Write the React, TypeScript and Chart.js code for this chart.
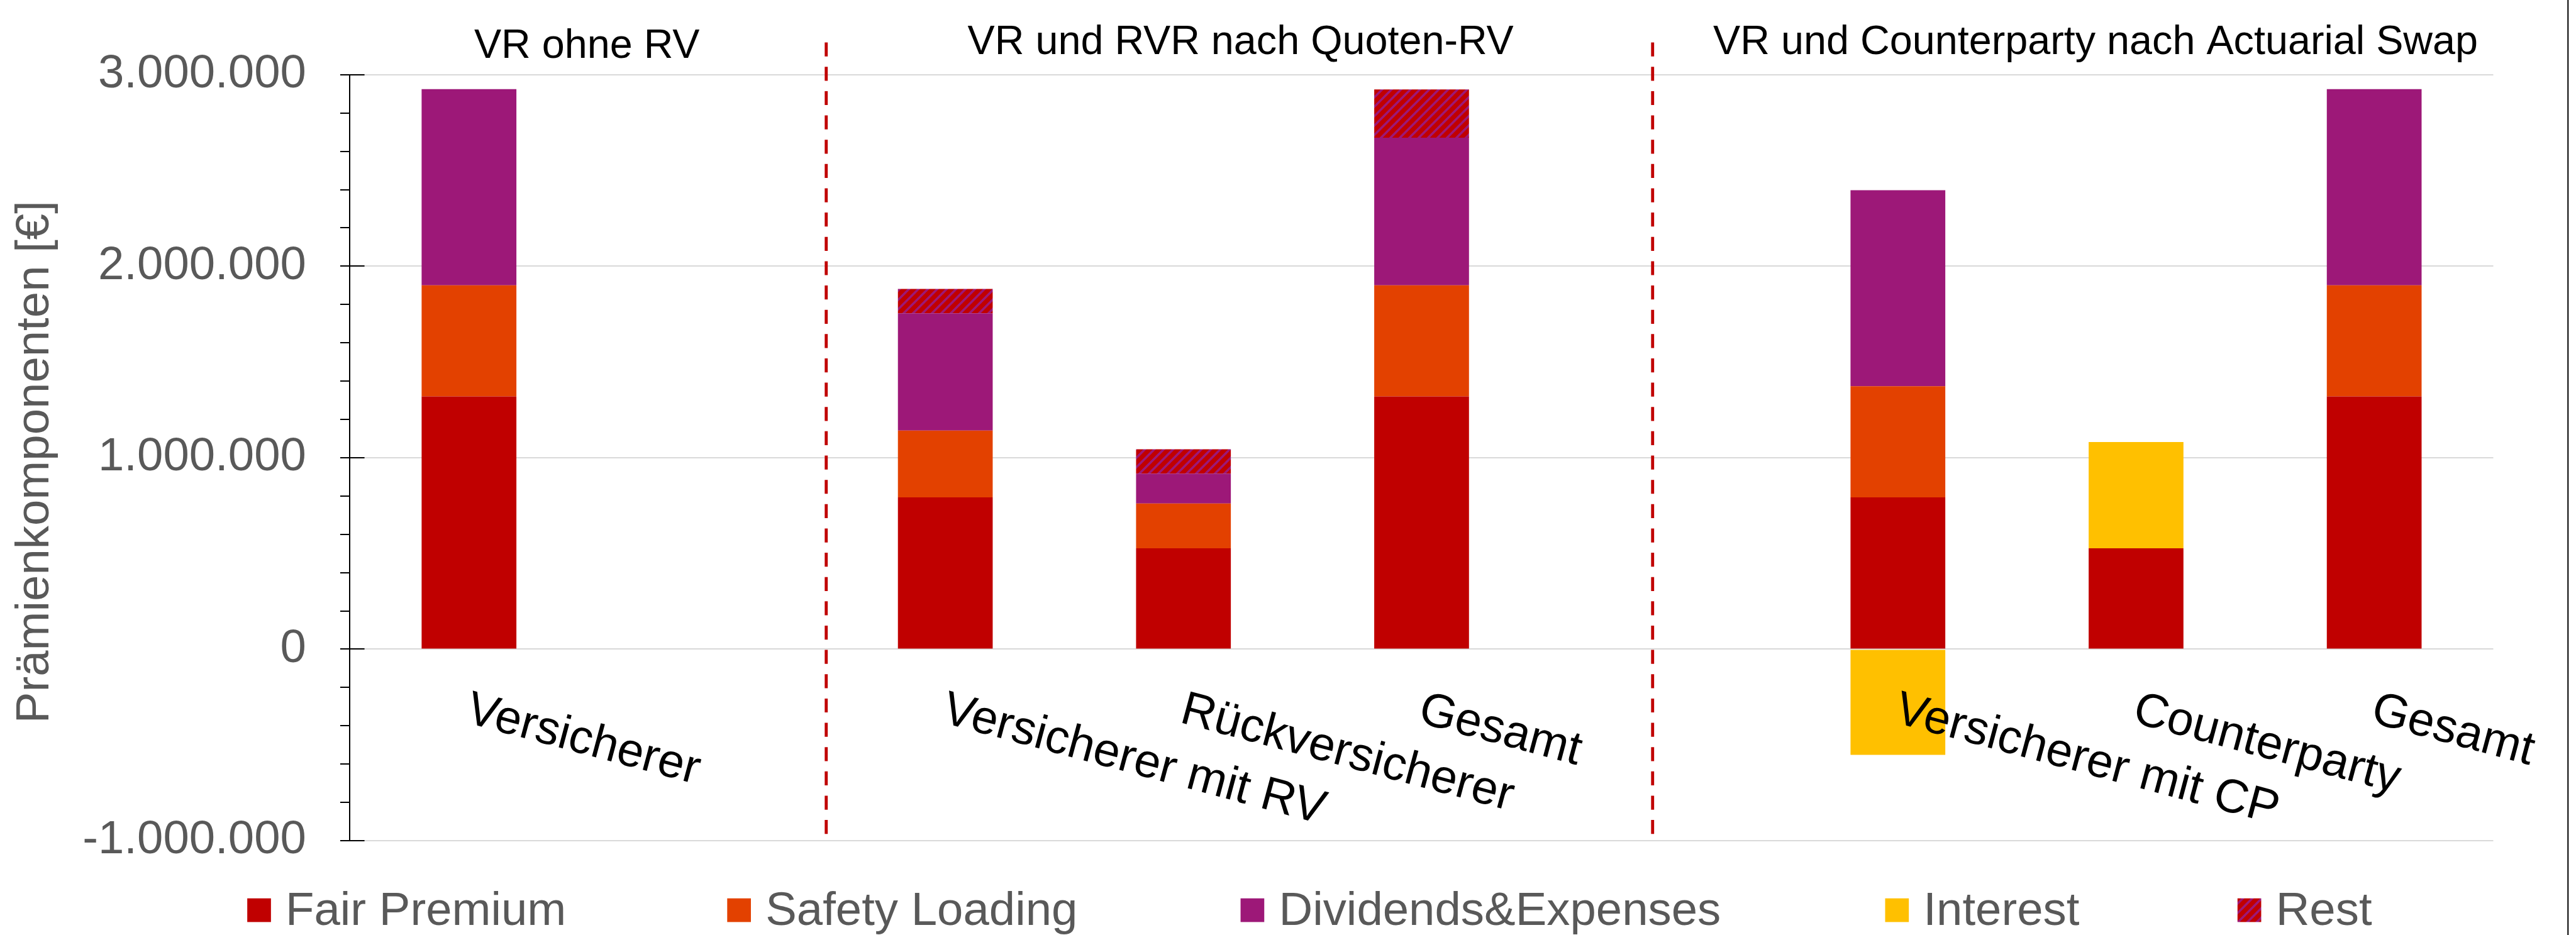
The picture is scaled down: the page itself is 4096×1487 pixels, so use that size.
import React, { useEffect, useRef } from 'react';
import { Chart, registerables } from 'chart.js';

Chart.register(...registerables);

// ---------- data ----------
const categories = ['Versicherer', '', 'Versicherer mit RV', 'Rückversicherer', 'Gesamt', '', 'Versicherer mit CP', 'Counterparty', 'Gesamt'];
const fairPremium = [1320000, null, 793000, 527000, 1320000, null, 793000, 527000, 1320000];
const safetyLoading = [580000, null, 349000, 234000, 580000, null, 580000, null, 580000];
const dividendsExpenses = [1025000, null, 612000, 156000, 771000, null, 1024000, null, 1025000];
const interest = [null, null, null, null, null, null, -552000, 555000, null];
const rest = [null, null, 127000, 127000, 252000, null, null, null, null];
const seriesNames = ['Fair Premium', 'Safety Loading', 'Dividends&Expenses', 'Interest', 'Rest'];
const yMin = -1000000;
const yMax = 3000000;
const yStep = 1000000;
const yMinorStep = 200000;
const groupTitles = ['VR ohne RV', 'VR und RVR nach Quoten-RV', 'VR und Counterparty nach Actuarial Swap'];
const yAxisTitle = 'Prämienkomponenten [€]';

// ---------- layout / style ----------
const S = 0.966;
const W = 4096;
const H = 1487;
const FONT = '"Liberation Sans", Arial, sans-serif';
const colors = ['#C00000', '#E34100', '#9D1878', '#FFC000'];
const groupTitlePos = [0.495, 3.24, 6.83];
const groupTitleBaseline = [95, 89, 89];
const separatorPos = [1.5, 4.97];
const legendX = [407, 1197, 2042, 3103, 3683];

const fmt = (v: number) => {
  const s = Math.abs(v).toFixed(0).replace(/\B(?=(\d{3})+(?!\d))/g, '.');
  return (v < 0 ? '-' : '') + s;
};

function makePattern(ctx: CanvasRenderingContext2D) {
  const T = 15;
  const c = document.createElement('canvas');
  c.width = T;
  c.height = T;
  const g = c.getContext('2d')!;
  g.fillStyle = '#C00000';
  g.fillRect(0, 0, T, T);
  g.strokeStyle = '#9D1878';
  g.lineWidth = 3.5;
  for (const o of [-T, 0, T]) {
    g.beginPath();
    g.moveTo(o - 1, T + 1);
    g.lineTo(o + T + 1, -1);
    g.stroke();
  }
  return ctx.createPattern(c, 'repeat')!;
}

const overlay = {
  id: 'overlay',
  afterDraw(chart: any) {
    const ctx: CanvasRenderingContext2D = chart.ctx;
    const area = chart.chartArea;
    const xs = chart.scales.x;
    const ys = chart.scales.y;
    ctx.save();

    // y tick marks
    ctx.strokeStyle = '#000';
    ctx.lineWidth = 2;
    const axisX = area.left;
    const n0 = Math.round(yMin / yMinorStep);
    const n1 = Math.round(yMax / yMinorStep);
    for (let k = n0; k <= n1; k++) {
      const v = k * yMinorStep;
      const y = Math.round(ys.getPixelForValue(v));
      const major = v % yStep === 0;
      ctx.beginPath();
      ctx.moveTo(axisX - 16 * S, y);
      ctx.lineTo(axisX + (major ? 24 * S : 0), y);
      ctx.stroke();
    }

    // dashed separators
    ctx.strokeStyle = '#C00000';
    ctx.lineWidth = 5 * S;
    ctx.setLineDash([23 * S, 17 * S]);
    for (const p of separatorPos) {
      const x = xs.getPixelForValue(p);
      ctx.beginPath();
      ctx.moveTo(x, 70 * S);
      ctx.lineTo(x, area.bottom + 4 * S);
      ctx.stroke();
    }
    ctx.setLineDash([]);

    // group titles
    ctx.fillStyle = '#000';
    ctx.font = `${67 * S}px ${FONT}`;
    ctx.textAlign = 'center';
    ctx.textBaseline = 'alphabetic';
    groupTitles.forEach((t, i) => {
      ctx.fillText(t, xs.getPixelForValue(groupTitlePos[i]), groupTitleBaseline[i] * S);
    });

    // category labels (rotated, going down-right)
    ctx.font = `${78 * S}px ${FONT}`;
    ctx.textAlign = 'left';
    const zeroY = ys.getPixelForValue(0);
    categories.forEach((lab, i) => {
      if (!lab) return;
      const x = xs.getPixelForValue(i) - 8 * S;
      const y = zeroY + 120 * S;
      ctx.save();
      ctx.translate(x, y);
      ctx.rotate((15 * Math.PI) / 180);
      ctx.fillText(lab, 0, 0);
      ctx.restore();
    });

    // y axis title
    ctx.fillStyle = '#595959';
    ctx.font = `${77 * S}px ${FONT}`;
    ctx.save();
    ctx.translate(80 * S, 760.5 * S);
    ctx.rotate(-Math.PI / 2);
    ctx.textAlign = 'center';
    ctx.fillText(yAxisTitle, 0, 0);
    ctx.restore();

    // legend
    const ds = chart.data.datasets;
    ctx.font = `${77 * S}px ${FONT}`;
    ctx.textAlign = 'left';
    ds.forEach((d: any, i: number) => {
      const bx = legendX[i] * S;
      ctx.fillStyle = d.backgroundColor;
      ctx.fillRect(bx, 1479 * S, 39 * S, 39 * S);
      ctx.fillStyle = '#595959';
      ctx.fillText(d.label, bx + 63 * S, 1523 * S);
    });

    // right border of chart frame
    ctx.strokeStyle = '#000';
    ctx.lineWidth = 2;
    ctx.beginPath();
    ctx.moveTo(4227 * S, 0);
    ctx.lineTo(4227 * S, H);
    ctx.stroke();

    ctx.restore();
  },
};

export default function App() {
  const ref = useRef<HTMLCanvasElement>(null);
  useEffect(() => {
    const canvas = ref.current!;
    const pat = makePattern(canvas.getContext('2d')!);
    const dataSeries = [fairPremium, safetyLoading, dividendsExpenses, interest, rest];
    const chart = new Chart(canvas, {
      type: 'bar',
      data: {
        labels: categories,
        datasets: dataSeries.map((d, i) => ({
          label: seriesNames[i],
          data: d as any,
          backgroundColor: i < 4 ? colors[i] : (pat as any),
          borderWidth: 0,
          categoryPercentage: 1,
          barPercentage: 0.398,
          stack: 's',
        })),
      },
      options: {
        responsive: false,
        devicePixelRatio: 1,
        animation: false,
        events: [],
        layout: { padding: { left: 0, right: W - 4104 * S, top: 123 * S, bottom: H - 1384 * S } },
        plugins: { legend: { display: false }, tooltip: { enabled: false }, title: { display: false } },
        scales: {
          x: {
            stacked: true,
            ticks: { display: false },
            grid: { display: false },
            border: { display: false },
            afterFit: (s: any) => {
              s.height = 0;
            },
          },
          y: {
            stacked: true,
            min: yMin,
            max: yMax,
            ticks: {
              stepSize: yStep,
              color: '#595959',
              font: { family: FONT, size: 77 * S },
              padding: 72 * S,
              callback: (v: any) => fmt(Number(v)),
            },
            grid: { color: '#D9D9D9', lineWidth: 2, drawTicks: false },
            border: { display: true, color: '#000', width: 2 },
            afterFit: (s: any) => {
              s.width = 576 * S;
            },
          },
        },
      },
      plugins: [overlay],
    });
    return () => chart.destroy();
  }, []);
  return (
    <div style={{ position: 'fixed', left: 0, top: 0, width: W, height: H, background: '#fff' }}>
      <canvas ref={ref} width={W} height={H} style={{ width: W, height: H, display: 'block' }} />
    </div>
  );
}
